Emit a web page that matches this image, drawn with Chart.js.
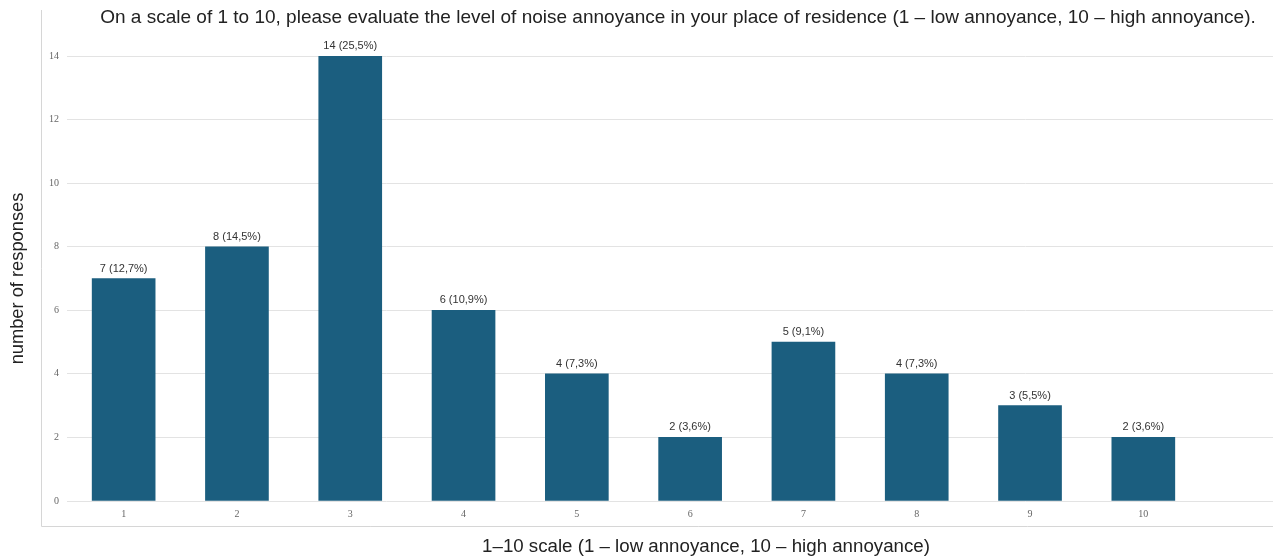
<!DOCTYPE html>
<html><head><meta charset="utf-8">
<script src="https://cdn.jsdelivr.net/npm/chart.js@4"></script>
<style>html,body{margin:0;padding:0;background:#fff;overflow:hidden;width:1273px;height:559px}canvas{display:block}</style>
</head><body>
<canvas id="c" width="1356" height="559"></canvas>
<script>
const categories = [1, 2, 3, 4, 5, 6, 7, 8, 9, 10];
const responses = [7, 8, 14, 6, 4, 2, 5, 4, 3, 2];
const percentages = ['12,7', '14,5', '25,5', '10,9', '7,3', '3,6', '9,1', '7,3', '5,5', '3,6'];
const yTicks = [0, 2, 4, 6, 8, 10, 12, 14];
const titleText = 'On a scale of 1 to 10, please evaluate the level of noise annoyance in your place of residence (1 – low annoyance, 10 – high annoyance).';
const xTitle = '1–10 scale (1 – low annoyance, 10 – high annoyance)';
const yTitle = 'number of responses';

const SANS = '"Liberation Sans", Arial, sans-serif';
const SERIF = '"Liberation Serif", "Times New Roman", serif';

const framePlugin = {
  id: 'frame',
  beforeDraw(chart) {
    const ctx = chart.ctx;
    ctx.save();
    ctx.fillStyle = '#fff';
    ctx.fillRect(0, 0, chart.width, chart.height);
    ctx.strokeStyle = '#d6d6d6';
    ctx.lineWidth = 1;
    ctx.beginPath();
    ctx.moveTo(41.5, 10);
    ctx.lineTo(41.5, 526.5);
    ctx.lineTo(chart.width, 526.5);
    ctx.stroke();
    ctx.restore();
  }
};

const labelPlugin = {
  id: 'barLabels',
  afterDatasetsDraw(chart) {
    const ctx = chart.ctx;
    const meta = chart.getDatasetMeta(0);
    ctx.save();
    ctx.font = '11px ' + SANS;
    ctx.fillStyle = '#333';
    ctx.textAlign = 'center';
    ctx.textBaseline = 'middle';
    meta.data.forEach((bar, i) => {
      ctx.fillText(responses[i] + ' (' + percentages[i] + '%)', bar.x, bar.y - 10);
    });
    ctx.restore();
  }
};

new Chart(document.getElementById('c'), {
  type: 'bar',
  data: {
    datasets: [{
      data: categories.map((c, i) => ({ x: c, y: responses[i] })),
      backgroundColor: '#1b5e7f',
      barThickness: 63
    }]
  },
  options: {
    responsive: false,
    animation: false,
    layout: { padding: { left: 11, right: 11, top: 0, bottom: 0 } },
    plugins: {
      legend: { display: false },
      tooltip: { enabled: false },
      title: {
        display: true,
        text: titleText,
        color: '#222',
        font: { family: SANS, size: 19, weight: 'normal' },
        padding: { top: 6.6, bottom: 26.6 }
      }
    },
    scales: {
      x: {
        type: 'linear',
        min: 0.5,
        max: 11.78,
        offset: false,
        grid: { display: false, offset: false, drawTicks: false },
        border: { display: false },
        afterBuildTicks: s => { s.ticks = categories.map(v => ({ value: v })); },
        afterFit: s => { s.height = 58; },
        ticks: {
          font: { family: SERIF, size: 10 },
          color: '#666',
          padding: 7,
          autoSkip: false,
          maxRotation: 0,
          callback: v => String(v)
        },
        title: {
          display: true,
          text: xTitle,
          color: '#222',
          font: { family: SANS, size: 18.7 },
          padding: { top: 16, bottom: 0.8 }
        }
      },
      y: {
        min: 0,
        max: 14,
        afterBuildTicks: s => { s.ticks = yTicks.map(v => ({ value: v })); },
        afterFit: s => { s.width = 56; },
        grid: { color: '#e3e3e3', drawTicks: false },
        border: { display: false },
        ticks: {
          font: { family: SERIF, size: 10 },
          color: '#666',
          padding: 8
        },
        title: {
          display: true,
          text: yTitle,
          color: '#222',
          font: { family: SANS, size: 18.3 },
          padding: { top: -3.9, bottom: 0 }
        }
      }
    }
  },
  plugins: [framePlugin, labelPlugin]
});
</script>
</body></html>
